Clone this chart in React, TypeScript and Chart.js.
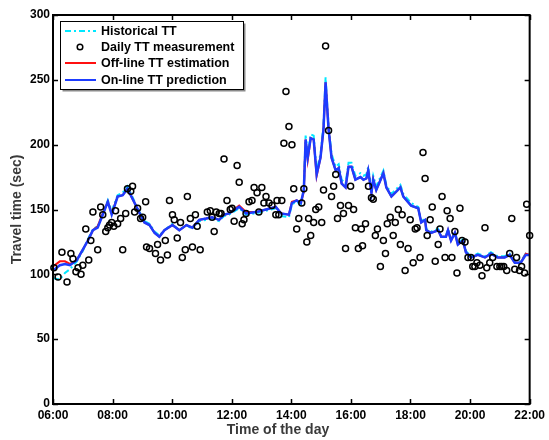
import { useEffect, useRef } from "react";
import { Chart, registerables } from "chart.js";

Chart.register(...registerables);

// Time of day in hours for the modelled series
const lineTimes = [
  6.0, 6.23, 6.4, 6.57, 6.8, 7.0, 7.17, 7.34, 7.5, 7.67, 7.84, 7.97, 8.17, 8.34, 8.5, 8.74, 8.91, 9.07, 9.24, 9.41,
  9.57, 9.74, 10.01, 10.24, 10.48, 10.68, 10.91, 11.14, 11.34, 11.58, 11.74, 11.91, 12.25, 12.48, 12.81, 13.15, 13.48,
  13.65, 13.92, 14.02, 14.18, 14.32, 14.42, 14.48, 14.55, 14.65, 14.75, 14.85, 14.98, 15.08, 15.15, 15.25, 15.35,
  15.49, 15.59, 15.69, 15.82, 15.92, 16.02, 16.15, 16.32, 16.42, 16.52, 16.58, 16.69, 16.75, 16.85, 17.09, 17.19,
  17.36, 17.66, 17.76, 18.02, 18.26, 18.36, 18.49, 18.53, 18.69, 18.93, 19.03, 19.19, 19.26, 19.36, 19.49, 19.59,
  19.76, 19.86, 20.03, 20.26, 20.5, 20.7, 20.93, 21.16, 21.33, 21.5, 21.7, 21.87, 22.0,
];

const historicalTT = [
  97, 96, 101, 104, 110, 118, 127, 135, 137, 147, 157, 149, 161, 163, 168, 156, 148, 141, 139, 133,
  130, 134, 139, 134, 138, 135, 141, 142, 143, 141, 145, 146, 151, 146, 147, 149, 151, 145, 144, 154,
  156, 154, 166, 207, 193, 208, 207, 180, 193, 215, 252, 215, 193, 183, 185, 173, 170, 186, 186, 176,
  178, 176, 177, 183, 166, 176, 168, 180, 169, 162, 169, 162, 155, 152, 141, 143, 135, 133, 135, 130,
  130, 135, 127, 133, 124, 127, 118, 114, 116, 114, 117, 114, 114, 116, 110, 110, 116, 116,
];

const offlineTT = [
  106, 110, 110, 108, 111, 119, 126, 134, 137, 147, 156, 147, 160, 161, 166, 155, 147, 140, 138, 132,
  129, 134, 138, 134, 138, 136, 142, 143, 144, 142, 146, 147, 153, 148, 148, 150, 152, 147, 146, 156,
  157, 155, 164, 204, 188, 205, 204, 176, 190, 212, 248, 212, 190, 180, 182, 170, 167, 183, 183, 173,
  175, 173, 174, 180, 163, 173, 165, 178, 167, 160, 167, 160, 153, 151, 140, 142, 134, 132, 134, 129,
  129, 134, 126, 132, 123, 126, 117, 113, 115, 113, 116, 113, 113, 115, 109, 109, 116, 115,
];

const onlineTT = [
  103, 107, 108, 107, 111, 119, 126, 134, 136, 146, 156, 146, 160, 161, 166, 155, 147, 140, 138, 132,
  129, 134, 138, 134, 138, 136, 142, 143, 144, 142, 146, 147, 152, 147, 148, 150, 152, 147, 146, 155,
  157, 155, 165, 204, 190, 205, 204, 177, 190, 212, 248, 212, 190, 180, 182, 170, 167, 183, 183, 173,
  175, 173, 174, 180, 163, 173, 165, 178, 167, 160, 167, 160, 153, 151, 140, 142, 134, 132, 134, 129,
  129, 134, 126, 132, 123, 126, 117, 113, 115, 113, 116, 113, 113, 115, 109, 109, 115, 115,
];

// Daily measurements
const measureTimes = [
  6.03, 6.17, 6.3, 6.47, 6.6, 6.67, 6.77, 6.84, 6.94, 7.0, 7.1, 7.2, 7.27, 7.34, 7.5, 7.6, 7.67, 7.77, 7.84, 7.9,
  7.97, 8.04, 8.1, 8.17, 8.27, 8.34, 8.44, 8.5, 8.61, 8.67, 8.74, 8.84, 8.94, 9.01, 9.11, 9.14, 9.24, 9.44, 9.51,
  9.61, 9.77, 9.84, 9.91, 10.01, 10.07, 10.17, 10.28, 10.34, 10.44, 10.51, 10.61, 10.68, 10.78, 10.84, 10.94,
  11.18, 11.28, 11.34, 11.41, 11.48, 11.58, 11.64, 11.74, 11.84, 11.95, 12.01, 12.08, 12.18, 12.25, 12.35, 12.41,
  12.48, 12.58, 12.68, 12.75, 12.85, 12.91, 13.01, 13.08, 13.15, 13.25, 13.35, 13.48, 13.52, 13.58, 13.68, 13.75,
  13.82, 13.92, 14.02, 14.08, 14.18, 14.25, 14.35, 14.42, 14.52, 14.58, 14.65, 14.75, 14.82, 14.92, 15.02, 15.08,
  15.15, 15.25, 15.35, 15.42, 15.49, 15.55, 15.65, 15.75, 15.82, 15.92, 15.99, 16.09, 16.15, 16.25, 16.35, 16.39,
  16.49, 16.59, 16.69, 16.75, 16.82, 16.89, 16.99, 17.09, 17.16, 17.22, 17.32, 17.42, 17.49, 17.59, 17.66, 17.72,
  17.82, 17.92, 17.99, 18.09, 18.16, 18.22, 18.32, 18.42, 18.49, 18.56, 18.66, 18.73, 18.83, 18.93, 18.99, 19.06,
  19.16, 19.23, 19.33, 19.39, 19.49, 19.56, 19.66, 19.73, 19.83, 19.93, 20.03, 20.09, 20.16, 20.23, 20.33, 20.4,
  20.5, 20.56, 20.66, 20.76, 20.9, 21.0, 21.06, 21.13, 21.23, 21.33, 21.4, 21.5, 21.56, 21.66, 21.73, 21.83, 21.9,
  22.0,
];

const measureTT = [
  105, 98, 117, 94, 116, 112, 102, 105, 100, 107, 135, 111, 126, 148, 119, 152, 146, 133, 136, 138,
  140, 137, 149, 139, 143, 119, 147, 166, 164, 168, 148, 151, 143, 144, 156, 121, 120, 116, 123,
  111, 126, 115, 157, 146, 142, 128, 140, 113, 119, 160, 143, 121, 146, 137, 119,
  148, 149, 144, 133, 148, 147, 147, 189, 157, 150, 151, 141, 184, 171, 139, 142,
  147, 156, 157, 167, 163, 148, 167, 155, 160, 155, 153, 146, 157, 146, 157, 201,
  241, 214, 200, 166, 135, 143, 155, 166, 125, 143, 130, 140, 150, 152, 140, 165,
  276, 211, 160, 168, 177, 143, 153, 147, 120, 153, 168, 150, 136, 120, 135, 122,
  139, 168, 159, 158, 130, 135, 106, 126, 116, 139, 144, 130, 140, 150, 123, 146,
  103, 120, 142, 109, 135, 136, 113, 194, 174, 130, 142, 152, 110, 123, 135, 160,
  113, 149, 143, 113, 133, 101, 151, 126, 125, 113, 113, 106, 106, 109, 107, 99,
  136, 105, 109, 113, 106, 106, 106, 106, 103, 116, 143, 104, 113, 103, 106, 101, 154,
  130,
];

const xTicks = [6, 8, 10, 12, 14, 16, 18, 20, 22];
const yTicks = [0, 50, 100, 150, 200, 250, 300];

const legendLabels = [
  "Historical TT",
  "Daily TT measurement",
  "Off-line TT estimation",
  "On-line TT prediction",
];

const FONT = "'Liberation Sans', Arial, Helvetica, sans-serif";
const CYAN = "#00e8ff";
const RED = "#ff1010";
const BLUE = "#1d3cff";

const fmtHour = (h: number) => String(h).padStart(2, "0") + ":00";

const framePlugin = {
  id: "frameAndLegend",
  afterDraw(chart: any) {
    const { ctx, chartArea, scales } = chart;
    const { left, right, top, bottom } = chartArea;
    const x = scales.x;
    const y = scales.y;
    ctx.save();
    // frame
    ctx.strokeStyle = "#000";
    ctx.lineWidth = 2;
    ctx.strokeRect(left, top, right - left, bottom - top);
    // inward ticks
    ctx.lineWidth = 1.5;
    ctx.beginPath();
    xTicks.forEach((t) => {
      const px = Math.round(x.getPixelForValue(t)) + 0.5;
      ctx.moveTo(px, bottom);
      ctx.lineTo(px, bottom - 5);
      ctx.moveTo(px, top);
      ctx.lineTo(px, top + 5);
    });
    yTicks.forEach((v) => {
      const py = Math.round(y.getPixelForValue(v)) + 0.5;
      ctx.moveTo(left, py);
      ctx.lineTo(left + 5, py);
      ctx.moveTo(right, py);
      ctx.lineTo(right - 5, py);
    });
    ctx.stroke();

    // x axis title
    ctx.fillStyle = "#3a3a3a";
    ctx.font = `bold 14px ${FONT}`;
    ctx.textAlign = "center";
    ctx.textBaseline = "middle";
    ctx.fillText("Time of the day", 278, 430);

    // legend box
    const bx = 60.5, by = 21.5, bw = 183, bh = 68;
    ctx.fillStyle = "#8a8a8a";
    ctx.fillRect(bx + 2, by + 2, bw, bh);
    ctx.fillStyle = "#fff";
    ctx.fillRect(bx, by, bw, bh);
    ctx.strokeStyle = "#000";
    ctx.lineWidth = 1;
    ctx.strokeRect(bx, by, bw, bh);

    const rows = [31, 47, 63, 80];
    const x0 = 65, x1 = 96;
    // historical
    ctx.lineWidth = 2;
    ctx.strokeStyle = CYAN;
    ctx.setLineDash([6, 3, 2, 3]);
    ctx.beginPath();
    ctx.moveTo(x0, rows[0]);
    ctx.lineTo(x1, rows[0]);
    ctx.stroke();
    ctx.setLineDash([]);
    // measurement marker
    ctx.strokeStyle = "#000";
    ctx.lineWidth = 1.5;
    ctx.beginPath();
    ctx.arc(80, rows[1], 2.8, 0, Math.PI * 2);
    ctx.stroke();
    // offline
    ctx.lineWidth = 2;
    ctx.strokeStyle = RED;
    ctx.beginPath();
    ctx.moveTo(x0, rows[2]);
    ctx.lineTo(x1, rows[2]);
    ctx.stroke();
    // online
    ctx.strokeStyle = BLUE;
    ctx.beginPath();
    ctx.moveTo(x0, rows[3]);
    ctx.lineTo(x1, rows[3]);
    ctx.stroke();

    ctx.fillStyle = "#000";
    ctx.font = `bold 12.5px ${FONT}`;
    ctx.textAlign = "left";
    ctx.textBaseline = "middle";
    legendLabels.forEach((lab, i) => ctx.fillText(lab, 101, rows[i] + 0.5));
    ctx.restore();
  },
};

export default function App() {
  const ref = useRef<HTMLCanvasElement | null>(null);

  useEffect(() => {
    if (!ref.current) return;
    const toPts = (ts: number[], vs: number[]) => ts.map((t, i) => ({ x: t, y: vs[i] }));
    // Chart.js draws lower `order` on top
    const chart = new Chart(ref.current, {
      type: "line",
      data: {
        datasets: [
          {
            label: legendLabels[1],
            order: 0,
            data: toPts(measureTimes, measureTT),
            showLine: false,
            borderColor: "#000",
            backgroundColor: "rgba(0,0,0,0)",
            pointRadius: 3,
            pointBorderWidth: 1.5,
            pointBorderColor: "#000",
            pointBackgroundColor: "rgba(0,0,0,0)",
            clip: false as any,
          },
          {
            label: legendLabels[3],
            order: 1,
            data: toPts(lineTimes, onlineTT),
            borderColor: BLUE,
            borderWidth: 2.5,
            pointRadius: 0,
            tension: 0,
            fill: false,
          },
          {
            label: legendLabels[2],
            order: 2,
            data: toPts(lineTimes, offlineTT),
            borderColor: RED,
            borderWidth: 2,
            pointRadius: 0,
            tension: 0,
            fill: false,
          },
          {
            label: legendLabels[0],
            order: 3,
            data: toPts(lineTimes, historicalTT),
            borderColor: CYAN,
            borderWidth: 2,
            borderDash: [6, 3, 2, 3],
            pointRadius: 0,
            tension: 0,
            fill: false,
          },
        ] as any,
      },
      options: {
        responsive: false,
        animation: false,
        events: [],
        layout: { padding: { left: 0, top: 15, right: 17, bottom: 0 } },
        plugins: {
          legend: { display: false },
          tooltip: { enabled: false },
        },
        scales: {
          x: {
            type: "linear",
            min: 6,
            max: 22,
            afterBuildTicks: (s: any) => {
              s.ticks = xTicks.map((v) => ({ value: v }));
            },
            afterFit: (s: any) => {
              s.height = 36;
            },
            ticks: {
              callback: (v: any) => fmtHour(Number(v)),
              color: "#000",
              font: { family: FONT, size: 12, weight: "bold" },
              padding: 4,
              maxRotation: 0,
              autoSkip: false,
            },
            grid: { display: false, drawTicks: false },
            border: { display: false },
          },
          y: {
            type: "linear",
            min: 0,
            max: 300,
            afterBuildTicks: (s: any) => {
              s.ticks = yTicks.map((v) => ({ value: v }));
            },
            afterFit: (s: any) => {
              s.width = 53;
            },
            ticks: {
              color: "#000",
              font: { family: FONT, size: 12, weight: "bold" },
              padding: 3,
              autoSkip: false,
            },
            grid: { display: false, drawTicks: false },
            border: { display: false },
            title: {
              display: true,
              text: "Travel time (sec)",
              color: "#3a3a3a",
              font: { family: FONT, size: 14, weight: "bold" },
              padding: { top: 9, bottom: 0 },
            },
          },
        },
      } as any,
      plugins: [framePlugin],
    });
    return () => chart.destroy();
  }, []);

  return (
    <div style={{ position: "fixed", left: 0, top: 0, width: 549, height: 440, background: "#fff" }}>
      <canvas ref={ref} width={549} height={440} style={{ display: "block" }} />
    </div>
  );
}
